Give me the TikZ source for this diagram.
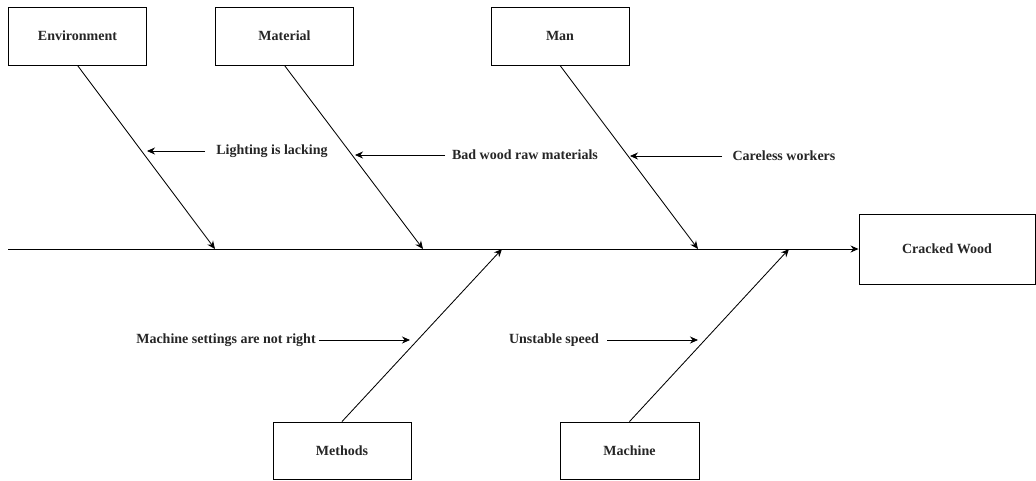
\documentclass[tikz,border=0pt]{standalone}
\usepackage{fontspec}
\setmainfont{Liberation Serif}
\usetikzlibrary{arrows.meta}
\begin{document}
\begin{tikzpicture}[x=1pt,y=-1pt,
  every node/.style={font=\fontsize{14}{16}\selectfont\bfseries, text=black!85},
  catbox/.style={draw, line width=0.9pt, minimum width=138pt, minimum height=58pt, inner sep=0pt},
  bone/.style={line width=0.85pt, -{Stealth[length=8pt,width=7pt]}},
  causetext/.style={inner sep=0pt}]
\useasboundingbox (0,0) rectangle (1036,480);
\fill[white] (0,0) rectangle (1036,480);

% category boxes
\node[catbox] (env) at (77.5,36) {Environment};
\node[catbox] (mat) at (284.5,36) {Material};
\node[catbox] (man) at (560,36) {Man};
\node[catbox, minimum height=57pt] (meth) at (342,450.5) {Methods};
\node[catbox, minimum height=57pt, minimum width=139pt] (mach) at (629.5,450.5) {Machine};
\node[catbox, minimum width=176pt, minimum height=70pt] (crack) at (947,249) {Cracked Wood};

% spine
\coordinate (spinestart) at (8,249);
\draw[bone] (spinestart) -- (crack.west);

% bones meeting the spine
\coordinate (jenv) at (215,249);
\coordinate (jmat) at (423,249);
\coordinate (jman) at (698,249);
\coordinate (jmeth) at (502,249);
\coordinate (jmach) at (789,249);
\draw[bone] (env.south) -- (jenv);
\draw[bone] (mat.south) -- (jmat);
\draw[bone] (man.south) -- (jman);
\draw[bone] (meth.north) -- (jmeth);
\draw[bone] (mach.north) -- (jmach);

% causes
\node[causetext] (light) at (272,151) {Lighting is lacking};
\node[causetext] (wood) at (525,155) {Bad wood raw materials};
\node[causetext] (care) at (784,156) {Careless workers};
\node[causetext] (sett) at (226,340) {Machine settings are not right};
\node[causetext] (speed) at (554,340) {Unstable speed};

\coordinate (tlight) at (205,151);  \coordinate (hlight) at (147,151);
\coordinate (twood) at (445,155);   \coordinate (hwood) at (355,155);
\coordinate (tcare) at (722,156);   \coordinate (hcare) at (630,156);
\coordinate (tsett) at (319,340);   \coordinate (hsett) at (410,340);
\coordinate (tspeed) at (607,340);  \coordinate (hspeed) at (698,340);

\draw[bone] (tlight) -- (hlight);
\draw[bone] (twood) -- (hwood);
\draw[bone] (tcare) -- (hcare);
\draw[bone] (tsett) -- (hsett);
\draw[bone] (tspeed) -- (hspeed);
\end{tikzpicture}
\end{document}
